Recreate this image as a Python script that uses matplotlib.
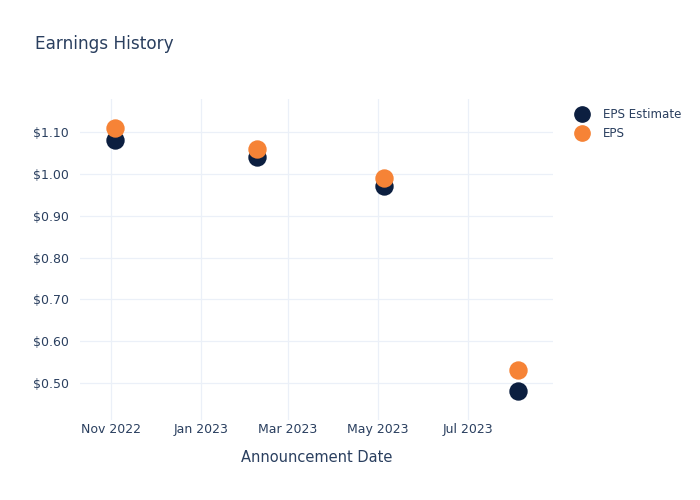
import numpy as np
import matplotlib.pyplot as plt
import matplotlib.dates as mdates
from matplotlib.lines import Line2D

dates = np.array(['2022-11-04', '2023-02-08', '2023-05-05', '2023-08-04'], dtype='datetime64[D]')
eps_estimate = [1.08, 1.04, 0.97, 0.48]
eps_actual = [1.11, 1.06, 0.99, 0.53]
y_ticks = [0.5, 0.6, 0.7, 0.8, 0.9, 1.0, 1.1]

text_col = '#2a3f5f'
grid_col = '#ebf0f8'
est_col = '#0c1f40'
eps_col = '#f68336'

fig = plt.figure(figsize=(7, 5), dpi=100)
ax = fig.add_axes([0.1143, 0.16, 0.6757, 0.642])

ax.scatter(dates, eps_estimate, s=175, color=est_col, zorder=3, linewidths=0)
ax.scatter(dates, eps_actual, s=175, color=eps_col, zorder=4, linewidths=0)

ax.set_xlim(np.datetime64('2022-10-11'), np.datetime64('2023-08-28'))
ax.set_ylim(0.4115, 1.179)
ax.set_yticks(y_ticks)
ax.set_yticklabels(['$%.2f' % v for v in y_ticks])
ax.xaxis.set_major_locator(mdates.MonthLocator(bymonth=[1, 3, 5, 7, 11]))
ax.xaxis.set_major_formatter(mdates.DateFormatter('%b %Y'))

ax.grid(True, color=grid_col, linewidth=0.9)
ax.set_axisbelow(True)
for sp in ax.spines.values():
    sp.set_visible(False)
ax.tick_params(length=0, labelsize=9, colors=text_col)
ax.tick_params(axis='y', pad=8)
ax.tick_params(axis='x', pad=2)
ax.set_xlabel('Announcement Date', fontsize=10.5, color=text_col, labelpad=10)

fig.text(0.05, 0.912, 'Earnings History', fontsize=12.2, color=text_col, va='center')

handles = [Line2D([], [], marker='o', linestyle='', markersize=11, color=est_col),
           Line2D([], [], marker='o', linestyle='', markersize=11, color=eps_col)]
fig.legend(handles, ['EPS Estimate', 'EPS'], loc='upper left', bbox_to_anchor=(0.806, 0.806),
           frameon=False, fontsize=8.6, labelcolor=text_col, handletextpad=1.15,
           labelspacing=0.55, handlelength=1.2)

fig.savefig('out.png', dpi=100, facecolor='white')
